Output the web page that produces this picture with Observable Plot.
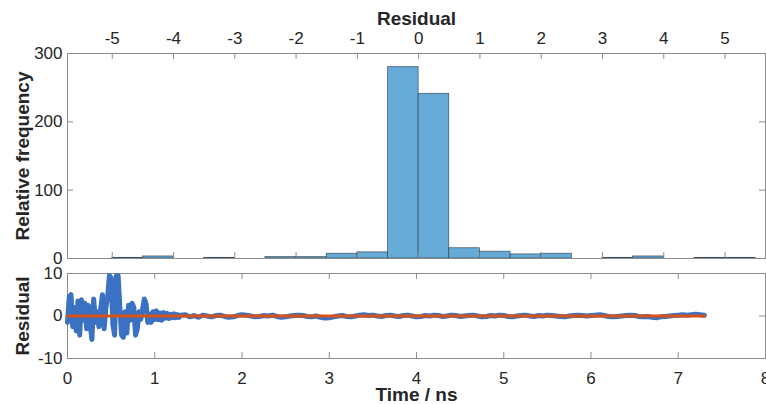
<!DOCTYPE html>
<html><head><meta charset="utf-8">
<script src="https://cdn.jsdelivr.net/npm/d3@7"></script>
<script src="https://cdn.jsdelivr.net/npm/@observablehq/plot@0.6"></script>
<style>
body{margin:0;background:#fff;}
#wrap{position:relative;width:766px;height:404px;overflow:hidden;background:#fff;}
#wrap svg{position:absolute;left:0;top:0;}
</style></head><body><div id="wrap"></div>
<script>
// ---- Histogram of residuals (top panel) ----
const binLeft  = [-5,-4.5,-4,-3.5,-3,-2.5,-2,-1.5,-1,-0.5,0,0.5,1,1.5,2,2.5,3,3.5,4,4.5,5];
const binRight = [-4.5,-4,-3.5,-3,-2.5,-2,-1.5,-1,-0.5,0,0.5,1,1.5,2,2.5,3,3.5,4,4.5,5,5.5];
const binCounts = [1,3,0,1,0,2,2,7,9,280,241,15,10,6,7,0,1,3,0,1,1];
const residualTicks = [-5,-4,-3,-2,-1,0,1,2,3,4,5];
const freqTicks = [0,100,200,300];

// ---- Residual vs time (bottom panel) ----
const earlyStart = 0, earlyStep = 0.02;
const residualEarly = [
 -1.5,4.5,5.0,-2.5,2.0,-3.5,3.5,-4.5,3.8,-1.0,
 3.0,-3.0,2.5,-2.0,-5.5,4.0,-1.5,1.0,-2.5,1.5,
 5.0,-3.0,2.0,4.5,9.5,9.0,-2.0,-4.5,9.5,9.5,
 2.0,-4.5,-5.0,1.0,-4.0,2.5,-1.0,3.0,2.0,-4.5,
 -3.0,1.0,-0.8,1.5,4.0,3.0,-1.5,0.5,-1.5,1.0,
 -0.8,1.2,-0.9,0.7,-1.0,0.8,-0.5,0.6,-0.6,0.4,
 -0.4,0.5,-0.4,0.3,-0.3,0.2];
const lateStart = 1.35, lateStep = 0.05;
const residualLate = [
 0.3,-0.2,0.1,-0.3,0.2,0.0,-0.2,0.1,0.2,-0.1,
 -0.3,-0.2,0.1,0.3,0.2,0.0,-0.2,-0.1,0.1,0.0,
 0.2,-0.1,-0.3,-0.2,0.0,0.1,0.2,0.1,-0.1,-0.2,
 0.0,-0.3,-0.5,-0.4,-0.2,0.0,0.1,-0.1,-0.2,0.0,
 0.2,0.3,0.1,0.2,0.0,-0.1,0.1,0.2,0.0,-0.1,
 0.1,0.2,0.0,-0.2,-0.1,0.1,0.0,0.2,0.1,-0.1,
 0.0,0.2,0.1,-0.1,0.0,0.1,0.2,0.0,-0.2,-0.1,
 0.1,0.0,0.2,0.1,-0.1,-0.2,0.0,0.1,0.2,0.0,
 -0.1,0.1,0.0,0.2,0.1,0.0,-0.1,-0.2,0.0,0.1,
 0.2,0.1,0.0,0.1,0.2,0.3,0.1,-0.1,-0.2,-0.1,
 0.0,0.1,0.2,0.1,-0.1,-0.2,-0.1,-0.3,-0.4,-0.2,
 -0.1,0.0,0.1,0.2,0.3,0.2,0.3,0.4,0.3,0.2];
const fitTime = [0, 7.3];
const fitValue = [0, 0];
const timeTicks = [0,1,2,3,4,5,6,7,8];
const resTicksY = [-10,0,10];

// tables built from the arrays
const bins = binCounts.map((c,i)=>({x1:binLeft[i], x2:binRight[i], count:c}));
const series = [
  ...residualEarly.map((v,i)=>({t: earlyStart + i*earlyStep, v})),
  ...residualLate.map((v,i)=>({t: lateStart + i*lateStep, v}))
];
const fit = fitTime.map((t,i)=>({t, v: fitValue[i]}));

const W = 766, H = 404;
const FONT = "'Liberation Sans', Arial, Helvetica, sans-serif";
const TXT = "#262626", FRAME = "#8c8c8c", TICK = "#8c8c8c";
const TS = 17, LS = 19;

// top panel frame: y 53..258, x 67..765
const topT = 53, topB = 258;
const topPlot = Plot.plot({
  width: W, height: H,
  marginLeft: 67, marginRight: 1, marginTop: topT, marginBottom: H - topB,
  x: {domain: [-5.73, 5.66], axis: null},
  y: {domain: [0, 300], axis: null},
  style: {background: "transparent", fontFamily: FONT, overflow: "visible"},
  marks: [
    Plot.rectY(bins, {x1: "x1", x2: "x2", y: "count", fill: "#66aad8", stroke: "#2e3a44", strokeWidth: 0.7, strokeOpacity: 0.85}),
    Plot.frame({stroke: FRAME, strokeWidth: 1}),
    Plot.tickX(residualTicks, {x: d => d, insetBottom: (topB - topT) - 6, stroke: TICK}),
    Plot.tickX(residualTicks, {x: d => d, insetTop: (topB - topT) - 6, stroke: TICK}),
    Plot.tickY(freqTicks, {y: d => d, insetRight: 698 - 6, stroke: TICK}),
    Plot.tickY(freqTicks, {y: d => d, insetLeft: 698 - 6, stroke: TICK}),
    Plot.text(residualTicks, {x: d => d, frameAnchor: "top", lineAnchor: "middle", dy: -15, text: d => String(d), fontSize: TS, fill: TXT}),
    Plot.text(freqTicks, {y: d => d, frameAnchor: "left", lineAnchor: "middle", dx: -5, textAnchor: "end", text: d => String(d), fontSize: TS, fill: TXT}),
    Plot.text(["Residual"], {frameAnchor: "top", lineAnchor: "middle", dy: -35, text: d => d, fontSize: LS, fontWeight: "bold", fill: TXT}),
    Plot.text(["Relative frequency"], {frameAnchor: "left", textAnchor: "middle", lineAnchor: "middle", dx: -45, rotate: -90, text: d => d, fontSize: LS, fontWeight: "bold", fill: TXT})
  ]
});

// bottom panel frame: y 273..358, x 67..765
const botT = 273, botB = 358;
const botPlot = Plot.plot({
  width: W, height: H,
  marginLeft: 67, marginRight: 1, marginTop: botT, marginBottom: H - botB,
  x: {domain: [0, 8], axis: null},
  y: {domain: [-10, 10], axis: null},
  style: {background: "transparent", fontFamily: FONT, overflow: "visible"},
  marks: [
    Plot.frame({stroke: FRAME, strokeWidth: 1}),
    Plot.tickX(timeTicks, {x: d => d, insetBottom: (botB - botT) - 6, stroke: TICK}),
    Plot.tickX(timeTicks, {x: d => d, insetTop: (botB - botT) - 6, stroke: TICK}),
    Plot.tickY(resTicksY, {y: d => d, insetRight: 698 - 6, stroke: TICK}),
    Plot.tickY(resTicksY, {y: d => d, insetLeft: 698 - 6, stroke: TICK}),
    Plot.line(series, {x: "t", y: "v", stroke: "#3a71c2", strokeWidth: 5, strokeLinejoin: "round", strokeLinecap: "round"}),
    Plot.line(fit, {x: "t", y: "v", stroke: "#d95319", strokeWidth: 3}),
    Plot.text(timeTicks, {x: d => d, frameAnchor: "bottom", lineAnchor: "middle", dy: 20, text: d => String(d), fontSize: TS, fill: TXT}),
    Plot.text(resTicksY, {y: d => d, frameAnchor: "left", lineAnchor: "middle", dx: -5, textAnchor: "end", text: d => String(d), fontSize: TS, fill: TXT}),
    Plot.text(["Time / ns"], {frameAnchor: "bottom", lineAnchor: "middle", dy: 36, text: d => d, fontSize: LS, fontWeight: "bold", fill: TXT}),
    Plot.text(["Residual"], {frameAnchor: "left", textAnchor: "middle", lineAnchor: "middle", dx: -45, rotate: -90, text: d => d, fontSize: LS, fontWeight: "bold", fill: TXT})
  ]
});

const wrap = document.getElementById("wrap");
wrap.appendChild(botPlot);
wrap.appendChild(topPlot);
</script>
</body></html>
